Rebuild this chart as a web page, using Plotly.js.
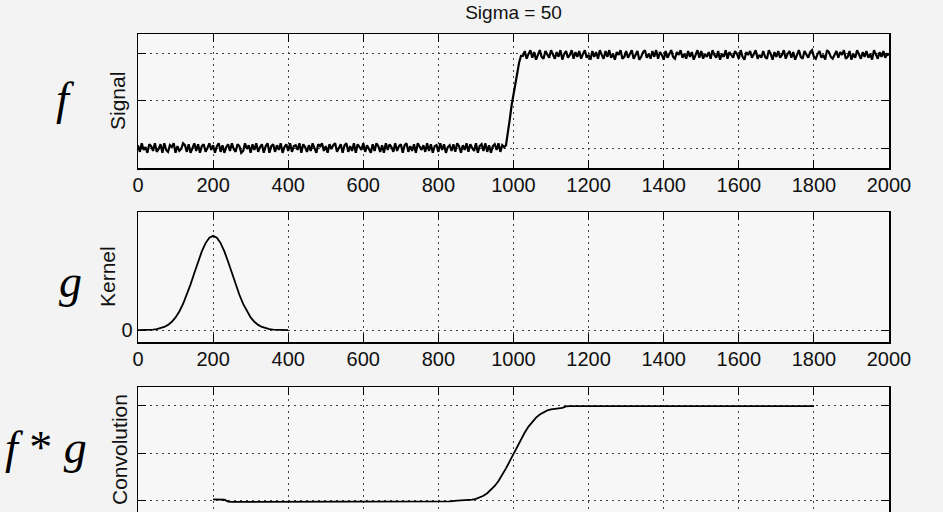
<!DOCTYPE html>
<html>
<head>
<meta charset="utf-8">
<script src="https://cdn.plot.ly/plotly-3.0.1.min.js"></script>
<style>
html,body{margin:0;padding:0;background:#f3f3f3;overflow:hidden;}
#wrap{width:943px;height:512px;overflow:hidden;position:relative;}
#chart{width:943px;height:545px;}
</style>
</head>
<body>
<div id="wrap"><div id="chart"></div></div>
<script>
// ---------- data ----------
const sigmaLabel = 'Sigma = 50';
const xTickVals = [0,200,400,600,800,1000,1200,1400,1600,1800,2000];
const xTickText = ['0','200','400','600','800','1000','1200','1400','1600','1800','2000'];

// noisy step signal, sampled every 5 units
const signalStep = 5;
const signalLowStart = 0;      // low plateau 0..975
const signalLow = [
0.03,-0.04,0.05,-0.02,0.01,-0.05,0.04,0.02,-0.03,0.05,-0.04,-0.01,0.04,-0.05,
0.05,-0.02,-0.04,0.03,0.01,0.05,-0.05,0.02,-0.03,-0.01,0.05,0.03,-0.04,0.04,
-0.05,0.01,0.05,-0.03,0.04,-0.05,0.02,0.04,-0.04,0.00,0.05,-0.02,0.03,-0.05,
0.02,0.05,-0.04,0.03,-0.05,0.01,0.04,-0.03,0.05,-0.01,-0.04,0.04,0.02,-0.05,
-0.03,0.05,-0.01,0.03,-0.05,0.04,-0.02,0.05,-0.04,0.01,0.04,-0.05,0.02,0.05,
-0.05,0.02,0.04,-0.04,0.03,-0.02,0.05,-0.05,0.01,0.04,-0.03,0.05,-0.04,0.02,
0.03,-0.02,0.05,-0.05,0.04,0.01,-0.04,0.03,-0.03,0.05,-0.01,-0.05,0.04,0.02,
0.05,-0.03,0.02,-0.05,0.04,-0.01,0.03,0.05,-0.04,0.01,0.04,-0.05,0.03,0.05,
-0.04,0.02,-0.03,0.05,-0.05,0.04,0.01,-0.02,0.05,-0.04,0.03,-0.01,-0.05,0.04,
-0.03,0.05,0.02,-0.04,0.03,-0.05,0.05,-0.02,0.04,0.01,-0.04,0.05,-0.03,0.02,
0.04,-0.05,0.03,0.05,-0.04,0.02,-0.03,0.04,-0.05,0.05,0.01,-0.02,0.03,-0.04,
0.05,-0.03,0.04,-0.05,0.02,0.03,-0.04,0.05,-0.02,0.04,-0.05,0.01,0.03,-0.03,
0.04,-0.04,0.05,0.02,-0.05,0.03,-0.02,0.05,-0.04,0.04,0.00,-0.03,0.05,-0.05,
0.02,0.04,-0.03,0.05,-0.04,0.03,-0.05,0.02,0.04,-0.02,0.05,-0.04,0.03,0.01
];
const signalRampX = [980,985,990,995,1000,1005,1010,1015,1020];
const signalRampY = [0.03,0.15,0.30,0.45,0.56,0.68,0.80,0.90,0.97];
const signalHighStart = 1025;  // high plateau 1025..2000
const signalHigh = [
0.97,1.02,0.94,0.99,1.03,0.95,1.01,0.93,0.98,1.03,0.96,0.94,1.02,0.99,
0.95,1.03,0.98,0.94,1.01,0.96,1.03,0.93,0.99,1.02,0.95,0.98,1.03,0.94,
1.01,0.96,1.02,0.94,0.99,1.03,0.95,0.98,0.93,1.02,0.96,1.01,0.94,1.03,
0.98,0.94,1.02,0.96,1.03,0.95,0.99,0.93,1.01,0.98,1.03,0.94,0.96,1.02,
0.95,0.99,1.03,0.94,0.98,1.02,0.93,0.96,1.01,1.03,0.95,0.99,0.94,1.02,
0.96,1.03,0.94,1.01,0.98,0.93,1.02,0.95,0.99,1.03,0.96,0.94,1.01,0.98,
1.03,0.95,0.99,0.94,1.02,0.96,1.01,0.93,0.98,1.03,0.95,1.02,0.94,0.99,
0.96,1.01,0.94,1.03,0.98,0.95,1.02,0.93,0.99,0.96,1.03,0.94,1.01,0.98,
0.95,1.02,0.99,0.94,1.03,0.96,0.93,1.01,0.98,1.02,0.95,0.99,1.03,0.94,
0.98,0.95,1.02,0.96,0.94,1.03,0.99,0.93,1.01,0.96,1.02,0.95,0.98,1.03,
0.94,0.99,1.02,0.95,1.01,0.93,0.98,1.03,0.96,0.94,1.02,0.99,0.95,1.01,
1.03,0.96,0.94,0.99,1.02,0.95,0.98,0.93,1.03,1.01,0.96,0.94,0.99,1.02,
0.95,1.01,0.98,1.03,0.94,0.96,1.02,0.93,0.99,0.95,1.03,0.98,0.94,1.01,
0.96,1.02,0.95,0.99,0.93,1.03,0.98,0.94,1.01,0.96,1.02,0.95,0.99,0.98
];

// Gaussian kernel (sigma 50) centred at 200
const kernelX = [0,10,20,30,40,50,60,70,80,90,100,110,120,130,140,150,160,170,180,190,200,
  210,220,230,240,250,260,270,280,290,300,310,320,330,340,350,360,370,380,390,400];
const kernelY = [0.000003,0.000006,0.000012,0.000025,0.000048,0.000089,0.000158,0.000272,0.000448,0.000709,
  0.00108,0.00158,0.00222,0.00300,0.00388,0.00484,0.00579,0.00667,0.00737,0.00782,0.00798,
  0.00782,0.00737,0.00667,0.00579,0.00484,0.00388,0.00300,0.00222,0.00158,0.00108,
  0.000709,0.000448,0.000272,0.000158,0.000089,0.000048,0.000025,0.000012,0.000006,0.000003];

// convolution result
const convX = [200,210,220,230,240,250,300,400,500,600,700,800,830,850,
  860,870,880,890,900,910,920,930,940,950,960,970,980,990,1000,1010,1020,1030,1040,1050,
  1060,1070,1080,1090,1100,1110,1120,1130,1140,1150,1200,1300,1400,1500,1600,1700,1800];
const convY = [0.015,0.015,0.015,0.012,-0.008,-0.010,-0.010,-0.010,-0.010,-0.010,-0.010,-0.008,-0.005,0.002,
  0.004,0.003,0.008,0.013,0.022,0.035,0.054,0.080,0.113,0.156,0.208,0.270,0.340,0.415,0.493,0.570,0.645,0.715,0.776,0.828,
  0.870,0.903,0.928,0.945,0.956,0.962,0.966,0.972,0.988,0.990,0.990,0.990,0.990,0.990,0.990,0.990,0.990];

// ---------- build ----------
const sigX = [], sigY = [];
signalLow.forEach((v,i)=>{ sigX.push(signalLowStart + i*signalStep); sigY.push(v); });
signalRampX.forEach((x,i)=>{ sigX.push(x); sigY.push(signalRampY[i]); });
signalHigh.forEach((v,i)=>{ sigX.push(signalHighStart + i*signalStep); sigY.push(v); });

const H = 545, L = 138, R = 889;
const py = p => (H - p)/H;
const pxp = p => (p - L)/(R - L);

const FONT = 'Liberation Sans, Arial, sans-serif';
const SERIF = 'Liberation Serif, Times New Roman, serif';

function xax(extra){
  return Object.assign({
    range:[0,2000], tickvals:xTickVals, ticktext:xTickText,
    showline:true, mirror:'ticks', linecolor:'#000', linewidth:1.5,
    ticks:'inside', ticklen:8, tickwidth:1, tickcolor:'#000',
    showgrid:true, gridcolor:'#404040', gridwidth:1, griddash:'2px,4px',
    zeroline:false, tickfont:{family:FONT, size:20, color:'#111'},
    ticklabelstandoff:-2, fixedrange:true
  }, extra);
}
function yax(extra){
  return Object.assign({
    showline:true, mirror:'ticks', linecolor:'#000', linewidth:1.5,
    ticks:'inside', ticklen:8, tickwidth:1, tickcolor:'#000',
    showgrid:true, gridcolor:'#404040', gridwidth:1, griddash:'2px,4px',
    zeroline:false, tickfont:{family:FONT, size:20, color:'#111'}, fixedrange:true
  }, extra);
}

const traces = [
  {x:sigX, y:sigY, xaxis:'x', yaxis:'y', type:'scatter', mode:'lines', line:{color:'#000', width:2.2}},
  {x:kernelX, y:kernelY, xaxis:'x2', yaxis:'y2', type:'scatter', mode:'lines', line:{color:'#000', width:1.8}},
  {x:convX, y:convY, xaxis:'x3', yaxis:'y3', type:'scatter', mode:'lines', line:{color:'#000', width:1.8}}
];

const layout = {
  width:943, height:H,
  margin:{l:L, r:943-R, t:0, b:0},
  paper_bgcolor:'#f3f3f3', plot_bgcolor:'#f7f7f7',
  showlegend:false,
  font:{family:FONT, color:'#000'},
  title:{text:sigmaLabel, font:{family:FONT, size:19, color:'#111'}, x:0.5, xref:'paper', xanchor:'center',
         y:py(12), yref:'container', yanchor:'middle'},
  xaxis: xax({anchor:'y'}),
  yaxis: yax({domain:[py(168), py(34)], range:[-0.21,1.2], tickvals:[0,0.5,1], showticklabels:false}),
  xaxis2: xax({anchor:'y2'}),
  yaxis2: yax({domain:[py(342), py(212)], range:[-0.001,0.01], tickvals:[0], ticktext:['0']}),
  xaxis3: xax({anchor:'y3', showticklabels:false}),
  yaxis3: yax({domain:[py(521), py(387)], range:[-0.21,1.19], tickvals:[0,0.5,1], showticklabels:false}),
  annotations:[
    {text:'Signal', x:pxp(118), y:py(101), xref:'paper', yref:'paper', textangle:-90, showarrow:false,
     xanchor:'center', yanchor:'middle', font:{family:FONT, size:21, color:'#111'}},
    {text:'Kernel', x:pxp(107), y:py(277), xref:'paper', yref:'paper', textangle:-90, showarrow:false,
     xanchor:'center', yanchor:'middle', font:{family:FONT, size:21, color:'#111'}},
    {text:'Convolution', x:pxp(120), y:py(450), xref:'paper', yref:'paper', textangle:-90, showarrow:false,
     xanchor:'center', yanchor:'middle', font:{family:FONT, size:21, color:'#111'}},
    {text:'<i>f</i>', x:pxp(65), y:py(99), xref:'paper', yref:'paper', showarrow:false,
     xanchor:'center', yanchor:'middle', font:{family:SERIF, size:46, color:'#000'}},
    {text:'<i>g</i>', x:pxp(70), y:py(281), xref:'paper', yref:'paper', showarrow:false,
     xanchor:'center', yanchor:'middle', font:{family:SERIF, size:46, color:'#000'}},
    {text:'<i>f</i> * <i>g</i>', x:pxp(46), y:py(447), xref:'paper', yref:'paper', showarrow:false,
     xanchor:'center', yanchor:'middle', font:{family:SERIF, size:46, color:'#000'}}
  ]
};

Plotly.newPlot('chart', traces, layout, {displayModeBar:false, staticPlot:true});
</script>
</body>
</html>
